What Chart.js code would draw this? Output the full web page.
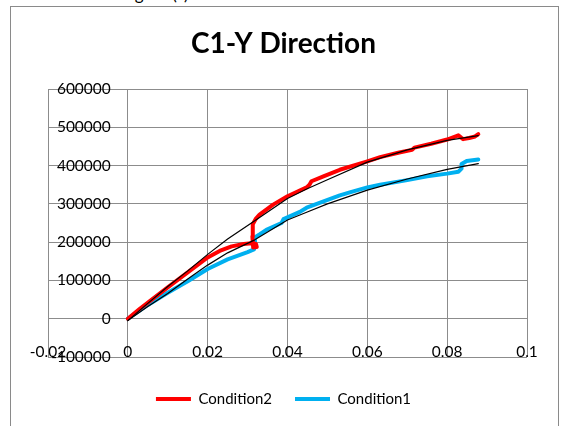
<!DOCTYPE html>
<html>
<head>
<meta charset="utf-8">
<title>C1-Y Direction</title>
<script src="https://cdn.jsdelivr.net/npm/chart.js@4.4.0/dist/chart.umd.min.js"></script>
<style>
  html, body { margin: 0; padding: 0; background: #fff; overflow: hidden; }
  #wrap { position: relative; width: 561px; height: 426px; overflow: hidden; }
  #frame { position: absolute; left: 10px; top: 6px; width: 549px; height: 440px; border: 1px solid #8a8a8a; box-sizing: border-box; }
  #caption { position: absolute; left: 121px; top: -14.6px; font: 17px Lato; line-height: 17px; color: #000; white-space: nowrap; }
  #c1yChart { position: absolute; left: 0; top: 0; }
</style>
</head>
<body>
<div id="wrap">
  <div id="caption">Figure (c)</div>
  <div id="frame"></div>
  <canvas id="c1yChart" width="561" height="426"></canvas>
</div>
<script>
// axis ticks
const xTicks = [-0.02, 0, 0.02, 0.04, 0.06, 0.08, 0.1];
const yTicks = [-100000, 0, 100000, 200000, 300000, 400000, 500000, 600000];

// Condition2 (red)
const cond2X = [0, 0.003, 0.006, 0.01, 0.015, 0.02, 0.023, 0.026, 0.029, 0.031, 0.0321, 0.0323, 0.0314, 0.0312, 0.0313, 0.032, 0.033, 0.0364, 0.04, 0.0448, 0.0455, 0.046, 0.049, 0.0531, 0.06, 0.0632, 0.068, 0.0712, 0.0718, 0.076, 0.08, 0.0828, 0.0835, 0.084, 0.0855, 0.087, 0.0878];
const cond2Y = [0, 26000, 50000, 82000, 121000, 160000, 177000, 189000, 195000, 197000, 195000, 187000, 186000, 215000, 247000, 260000, 272000, 298000, 320000, 343000, 350000, 359000, 372000, 389000, 411000, 422000, 434000, 441000, 447000, 457000, 468000, 479000, 473000, 469000, 472000, 476000, 482000];

// Condition1 (blue)
const cond1X = [0, 0.005, 0.01, 0.015, 0.02, 0.025, 0.03, 0.0316, 0.0319, 0.0318, 0.033, 0.0347, 0.0385, 0.039, 0.0431, 0.0448, 0.0531, 0.0556, 0.06, 0.0632, 0.07, 0.075, 0.08, 0.0828, 0.0836, 0.0836, 0.0849, 0.0878];
const cond1Y = [0, 36000, 68000, 98000, 130000, 155000, 174000, 181000, 192000, 212000, 220000, 232000, 250000, 260000, 279000, 290000, 322000, 330000, 343000, 350000, 362000, 372000, 379000, 384000, 392000, 404000, 412000, 416000];

// black trend lines
const trend2X = [0, 0.005, 0.01, 0.015, 0.02, 0.025, 0.0318, 0.04, 0.0448, 0.05, 0.06, 0.07, 0.08, 0.0878];
const trend2Y = [-5000, 40000, 84000, 125000, 168000, 208000, 256000, 314000, 339000, 363000, 409000, 441000, 466000, 478000];
const trend1X = [0, 0.005, 0.01, 0.015, 0.02, 0.025, 0.0318, 0.04, 0.0448, 0.05, 0.06, 0.07, 0.08, 0.0878];
const trend1Y = [-5000, 32000, 66000, 104000, 140000, 172000, 206000, 258000, 278000, 300000, 336000, 365000, 390000, 405000];

const toPoints = (xs, ys) => xs.map((x, i) => ({ x: x, y: ys[i] }));

const gridColor = '#8c8c8c';
const fontFamily = 'Lato, "Open Sans", sans-serif';

// tick labels sit next to the axes crossing at 0, like Excel does
const axisLabels = {
    id: 'axisLabels',
    afterDraw(chart) {
        const { ctx, scales: { x, y } } = chart;
        const x0 = x.getPixelForValue(0);
        const y0 = y.getPixelForValue(0);
        ctx.save();
        ctx.font = '15.5px ' + fontFamily;
        ctx.fillStyle = '#000';
        ctx.textAlign = 'right';
        ctx.textBaseline = 'middle';
        yTicks.forEach(v => ctx.fillText(String(v), x0 - 17, y.getPixelForValue(v)));
        ctx.textAlign = 'center';
        xTicks.forEach(v => ctx.fillText(String(v), x.getPixelForValue(v), y0 + 33));
        ctx.restore();
    }
};

const lineSet = (label, xs, ys, color, width) => ({
    label: label,
    data: toPoints(xs, ys),
    showLine: true,
    borderColor: color,
    backgroundColor: color,
    borderWidth: width,
    pointRadius: 0,
    tension: 0,
    borderJoinStyle: 'round',
    borderCapStyle: 'round'
});

const ctx = document.getElementById('c1yChart').getContext('2d');
try {
    new Chart(ctx, {
        type: 'scatter',
        data: {
            datasets: [
                lineSet('', trend2X, trend2Y, '#000000', 1.2),
                lineSet('', trend1X, trend1Y, '#000000', 1.2),
                lineSet('Condition2', cond2X, cond2Y, '#ff0000', 4),
                lineSet('Condition1', cond1X, cond1Y, '#00b0f0', 4)
            ]
        },
        options: {
            responsive: false,
            animation: false,
            events: [],
            layout: { padding: { left: 40, right: 34, top: 0, bottom: 9.5 } },
            scales: {
                x: {
                    type: 'linear', min: -0.02, max: 0.1,
                    afterBuildTicks: s => { s.ticks = xTicks.map(v => ({ value: v })); },
                    afterFit: s => { s.height = 11.5; },
                    ticks: { display: false },
                    grid: { color: gridColor, drawTicks: false },
                    border: { display: false }
                },
                y: {
                    type: 'linear', min: -100000, max: 600000,
                    afterBuildTicks: s => { s.ticks = yTicks.map(v => ({ value: v })); },
                    afterFit: s => { s.width = 8; },
                    ticks: { display: false },
                    grid: { color: gridColor, drawTicks: false },
                    border: { display: false }
                }
            },
            plugins: {
                title: {
                    display: true,
                    text: 'C1-Y Direction',
                    color: '#000',
                    font: { family: fontFamily, size: 28, weight: 'bold' },
                    padding: { top: 27.2, bottom: 28.2 }
                },
                legend: {
                    position: 'bottom',
                    labels: {
                        color: '#000',
                        font: { family: fontFamily, size: 15 },
                        boxWidth: 35,
                        boxHeight: 4,
                        padding: 23,
                        filter: item => !!item.text,
                        generateLabels: chart => Chart.defaults.plugins.legend.labels.generateLabels(chart).map(l => ({ ...l, lineWidth: 0 }))
                    }
                },
                tooltip: { enabled: false }
            }
        },
        plugins: [axisLabels]
    });
} catch (e) { console.error('chart error:', e); }
</script>
</body>
</html>
